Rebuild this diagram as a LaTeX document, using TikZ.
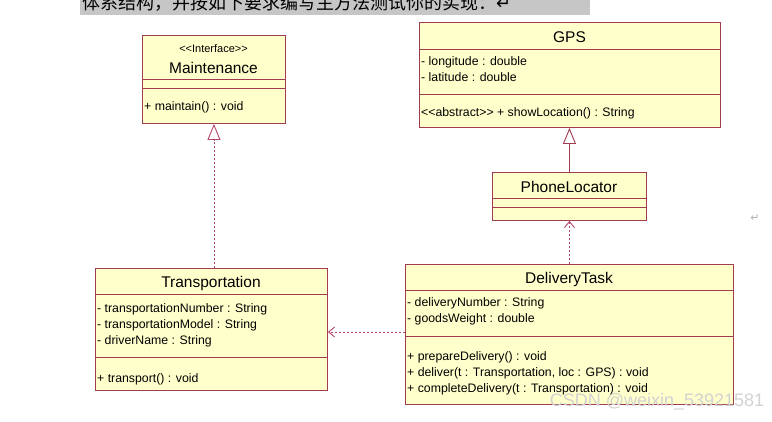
\documentclass[tikz,border=0pt]{standalone}
\usepackage{fontspec}
\setmainfont{Liberation Sans}
\newfontfamily\cjk{Noto Sans CJK SC}
\newfontfamily\djv{DejaVu Sans}
\usetikzlibrary{arrows.meta}
\definecolor{boxfill}{RGB}{255,255,204}
\definecolor{boxline}{RGB}{160,60,80}
\definecolor{arr}{RGB}{180,70,110}
\tikzset{
  cls/.style={draw=boxline,fill=boxfill,line width=0.9pt,anchor=north west,inner sep=0pt},
  div/.style={draw=boxline,line width=0.9pt},
  ttl/.style={font=\fontsize{15.5}{16}\selectfont,inner sep=0pt},
  txt/.style={font=\fontsize{12.3}{16}\selectfont,anchor=west,inner sep=0pt,align=left},
  real/.style={draw=arr,line width=0.9pt,dash pattern=on 2pt off 2pt,-{Triangle[open,length=16pt,width=13pt]}},
  gen/.style={draw=boxline,line width=0.9pt,-{Triangle[open,length=16pt,width=13pt]}},
  dep/.style={draw=arr,line width=0.9pt,dash pattern=on 2pt off 2pt,-{Straight Barb[length=6pt,width=10pt]}},
}
\begin{document}
\begin{tikzpicture}[x=1pt,y=-1pt]
\useasboundingbox (0,0) rectangle (772,421);
\fill[white] (0,0) rectangle (772,421);
% header band
\begin{scope}
\clip (80,0) rectangle (590,15);
\fill[gray!45] (80,0) rectangle (590,15);
\node[anchor=west,inner sep=0pt,font=\cjk\fontsize{18}{19}\selectfont] (hdr) at (82,3) {体系结构，并按如下要求编写主方法测试你的实现：\djv ↵};
\end{scope}
% Maintenance
\node[cls,minimum width=143pt,minimum height=88pt] (mnt) at (142,35) {};
\node[font=\fontsize{11}{12}\selectfont,inner sep=0pt] (mst) at (213.5,49) {{<}{<}Interface{>}{>}};
\node[ttl] (mt) at (213.5,68) {Maintenance};
\draw[div] (142,79) -- (285,79) (142,88) -- (285,88);
\node[txt] (mm) at (144,107) {+ maintain() : void};
% GPS
\node[cls,minimum width=301pt,minimum height=105pt] (gps) at (419,22) {};
\node[ttl] (gt) at (569.5,37) {GPS};
\draw[div] (419,49) -- (720,49) (419,94) -- (720,94);
\node[txt] (ga) at (421,69) {- longitude : double\\- latitude : double};
\node[txt] (gm) at (421,113) {{<}{<}abstract{>}{>} + showLocation() : String};
% PhoneLocator
\node[cls,minimum width=154pt,minimum height=48pt] (pl) at (492,172) {};
\node[ttl] (plt) at (569,187) {PhoneLocator};
\draw[div] (492,198) -- (646,198) (492,207) -- (646,207);
% Transportation
\node[cls,minimum width=232pt,minimum height=122pt] (tr) at (95,268) {};
\node[ttl] (trt) at (211,283) {Transportation};
\draw[div] (95,294) -- (327,294) (95,357) -- (327,357);
\node[txt] (tra) at (97,325) {- transportationNumber : String\\- transportationModel : String\\- driverName : String};
\node[txt] (trm) at (97,379) {+ transport() : void};
% DeliveryTask
\node[cls,minimum width=328pt,minimum height=140pt] (dt) at (405,264) {};
\node[ttl] (dtt) at (569,279) {DeliveryTask};
\draw[div] (405,290) -- (733,290) (405,336) -- (733,336);
\node[txt] (dta) at (407,311) {- deliveryNumber : String\\- goodsWeight : double};
\node[txt] (dtm) at (407,373) {+ prepareDelivery() : void\\+ deliver(t : Transportation, loc : GPS) : void\\+ completeDelivery(t : Transportation) : void};
% connectors
\draw[real] (tr.north -| mnt.south) -- (mnt.south);
\draw[gen] (pl.north) -- (pl.north |- gps.south);
\draw[dep] (dt.north -| pl.south) -- (pl.south);
\draw[dep] (dt.west |- 0,332) -- (tr.east |- 0,332);
% extras
\node[inner sep=0pt,text=gray!60,font=\djv\fontsize{11}{12}\selectfont] (ret) at (755,218) {↵};
\node[inner sep=0pt,text=gray!35,font=\fontsize{18}{19}\selectfont] (wm) at (657,402) {CSDN @weixin\_53921581};
\end{tikzpicture}
\end{document}
